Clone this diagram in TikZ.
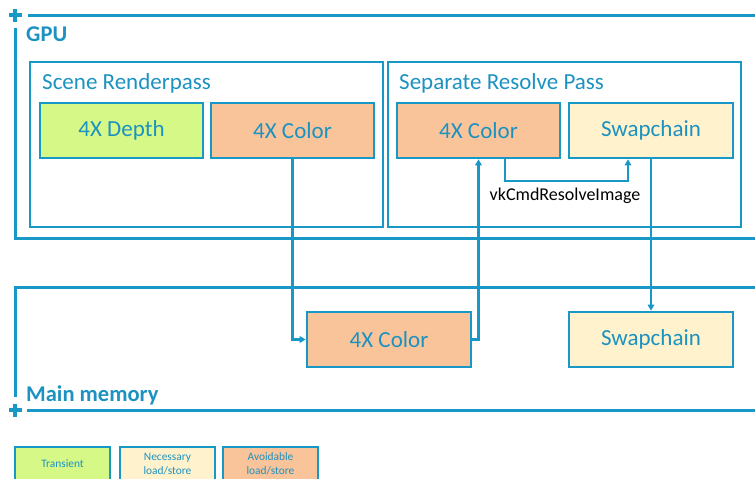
\documentclass[tikz,border=0pt]{standalone}
\usepackage{fontspec}
\setmainfont{Carlito}
\usetikzlibrary{arrows.meta}
\definecolor{lineblue}{RGB}{24,152,198}
\definecolor{textblue}{RGB}{28,146,192}
\definecolor{limefill}{RGB}{214,248,135}
\definecolor{creamfill}{RGB}{255,242,204}
\definecolor{salmonfill}{RGB}{249,196,154}
\tikzset{
  region/.style={draw=lineblue, line width=3pt},
  passbox/.style={draw=lineblue, line width=2.6pt, minimum width=353pt, minimum height=165pt, inner sep=0pt},
  buf/.style={draw=lineblue, line width=2.6pt, minimum width=163pt, minimum height=55pt,
              inner sep=0pt, text=textblue, font=\fontsize{23}{26}\selectfont},
  transientbuf/.style={buf, fill=limefill},
  neededbuf/.style={buf, fill=creamfill},
  avoidbuf/.style={buf, fill=salmonfill},
  keybox/.style={draw=lineblue, line width=2.6pt, minimum width=95pt, minimum height=34pt,
                 inner sep=0pt, text=textblue, align=center, font=\fontsize{11.4}{14}\selectfont},
  heading/.style={anchor=base west, inner sep=0pt, text=textblue, font=\fontsize{23}{26}\selectfont},
  bigheading/.style={heading, font=\bfseries\fontsize{22.5}{26}\selectfont},
  flow/.style={draw=lineblue, line width=2.3pt, -{Triangle[length=6pt,width=6.5pt]}},
  marker/.style={draw=lineblue, line width=3.4pt}
}
\begin{document}
\begin{tikzpicture}[x=1pt,y=-1pt]
\useasboundingbox (0,0) rectangle (755,479);
\clip (0,0) rectangle (755,479);

% GPU region outline
\draw[region] (28,15) -- (760,15);
\draw[region] (15,28) -- (15,238) -- (760,238);
\draw[marker] (9,15) -- (22,15) (15,8.5) -- (15,21.5);
\node[bigheading] (gpulabel) at (26,41) {GPU};

% Main memory region outline
\draw[region] (15,397) -- (15,287) -- (760,287);
\draw[region] (27,410) -- (760,410);
\draw[marker] (9,410) -- (22,410) (15,403.5) -- (15,416.5);
\node[bigheading] (memlabel) at (26,401) {Main memory};

% Render passes
\node[passbox] (scene) at (206.5,144.5) {};
\node[heading] (scenelabel) at (42,89) {Scene Renderpass};
\node[passbox] (resolve) at (564.5,144.5) {};
\node[heading] (resolvelabel) at (399,89) {Separate Resolve Pass};

% Attachments
\node[transientbuf] (depth) at (121.5,130.5) {4X Depth};
\node[avoidbuf] (colorA) at (292.5,130.5) {4X Color};
\node[avoidbuf] (colorB) at (478.5,130.5) {4X Color};
\node[neededbuf, minimum width=164pt] (swapA) at (651,130.5) {Swapchain};
\node[avoidbuf, minimum width=164pt] (colorM) at (389,339.5) {4X Color};
\node[neededbuf, minimum width=164pt] (swapM) at (651,339.5) {Swapchain};

% Data movement
\draw[flow] (colorA.south) |- (colorM.west);
\draw[flow] (colorM.east) -| (colorB.south);
\draw[flow] (swapA.south) -- (swapM.north);
\coordinate (resolvefrom) at ([xshift=26.5pt]colorB.south);
\coordinate (resolveto) at ([xshift=-23pt]swapA.south);
\draw[flow] (resolvefrom) -- ++(0,22) -| (resolveto);
\node[anchor=base, inner sep=0pt, font=\fontsize{18}{21}\selectfont] (resolvecmd) at (565,200) {vkCmdResolveImage};

% Legend
\node[keybox, fill=limefill] (keytransient) at (62.5,464) {Transient};
\node[keybox, fill=creamfill] (keyneeded) at (167.5,464) {Necessary\\load/store};
\node[keybox, fill=salmonfill] (keyavoid) at (270.5,464) {Avoidable\\load/store};
\end{tikzpicture}
\end{document}
